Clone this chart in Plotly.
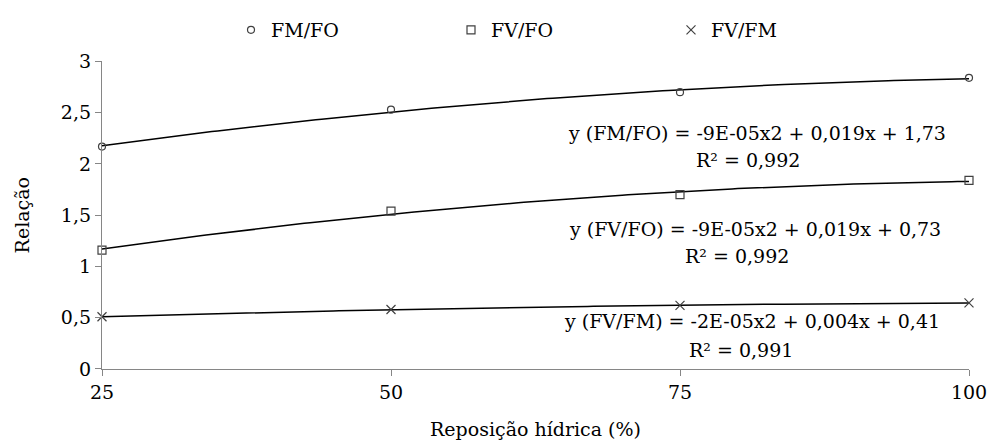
import numpy as np
import plotly.graph_objects as go

reposicao = [25, 50, 75, 100]
fm_fo = [2.17, 2.53, 2.70, 2.84]
fv_fo = [1.16, 1.54, 1.70, 1.84]
fv_fm = [0.51, 0.58, 0.62, 0.645]

series_names = ["FM/FO", "FV/FO", "FV/FM"]
series_values = [fm_fo, fv_fo, fv_fm]
symbols = ["circle-open", "square-open", "x-thin-open"]
sizes = [7, 8, 9]

eq_lines = [
    "y (FM/FO) = -9E-05x2 + 0,019x + 1,73",
    "y (FV/FO) = -9E-05x2 + 0,019x + 0,73",
    "y (FV/FM) = -2E-05x2 + 0,004x + 0,41",
]
r2_lines = ["R² = 0,992", "R² = 0,992", "R² = 0,991"]

FONT = "DejaVu Serif"
PAPER_H = 446 - 77          # paper spans from figure top to x-axis
PLOT_H = 317                # height of the plotting area


def py(px_y):
    """pixel row (from top) -> paper fraction"""
    return (PAPER_H - px_y) / PAPER_H


fig = go.Figure()
xs = np.linspace(25, 100, 151)
for name, vals, sym, sz in zip(series_names, series_values, symbols, sizes):
    coef = np.polyfit(reposicao, vals, 2)
    fig.add_trace(go.Scatter(x=xs, y=np.polyval(coef, xs), mode="lines",
                             line=dict(color="black", width=1.5),
                             showlegend=False, hoverinfo="skip"))
    fig.add_trace(go.Scatter(x=reposicao, y=vals, mode="markers", name=name,
                             marker=dict(symbol=sym, size=sz, color="#404040",
                                         line=dict(color="#404040", width=1.2)),
                             cliponaxis=False))

eq_pos = [(0.755, 126, 0.745, 154), (0.753, 225, 0.732, 253), (0.750, 320, 0.737, 349)]
for (ex, ey, rx, ry), eq, r2 in zip(eq_pos, eq_lines, r2_lines):
    fig.add_annotation(x=ex, y=py(ey), xref="paper", yref="paper", text=eq,
                       showarrow=False, font=dict(size=19, color="black", family=FONT),
                       xanchor="center", yanchor="middle")
    fig.add_annotation(x=rx, y=py(ry), xref="paper", yref="paper", text=r2,
                       showarrow=False, font=dict(size=19, color="black", family=FONT),
                       xanchor="center", yanchor="middle")

axis_common = dict(showline=True, linecolor="#868686", linewidth=1.3,
                   ticks="outside", tickcolor="#868686", ticklen=6, tickwidth=1.3,
                   showgrid=False, zeroline=False,
                   tickfont=dict(size=19, color="black", family=FONT))

fig.update_layout(
    width=993, height=446,
    margin=dict(l=102, r=24, t=0, b=77),
    paper_bgcolor="white", plot_bgcolor="white",
    separators=",.",
    font=dict(family=FONT, color="black"),
    xaxis=dict(range=[25, 100], tickvals=reposicao,
               title=dict(text="Reposição hídrica (%)", font=dict(size=19, family=FONT), standoff=20),
               **axis_common),
    yaxis=dict(range=[0, 3], dtick=0.5, tickformat=",.1~f",
               domain=[0, PLOT_H / PAPER_H],
               title=dict(text="Relação", font=dict(size=19, family=FONT), standoff=26),
               **axis_common),
    legend=dict(orientation="h", xref="paper", yref="paper",
                x=(231 - 102) / 867, y=1.0, xanchor="left", yanchor="top",
                entrywidth=175, entrywidthmode="pixels",
                font=dict(size=19, family=FONT, color="black"),
                itemwidth=30, bgcolor="rgba(0,0,0,0)"),
)

fig.write_html("out.html")
